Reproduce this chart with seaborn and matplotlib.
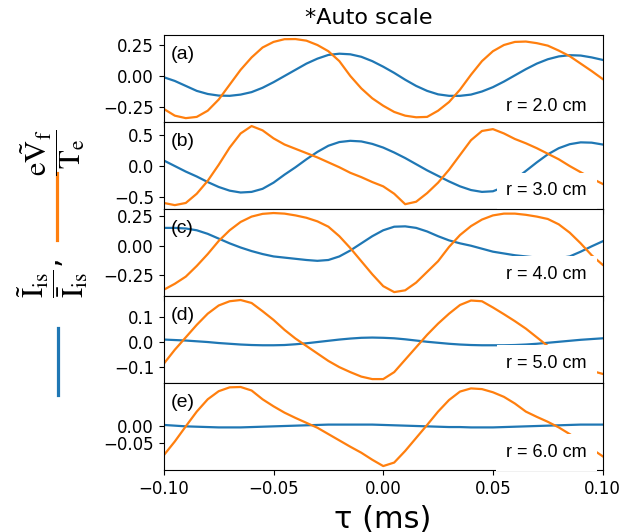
import numpy as np
import matplotlib
matplotlib.use("Agg")
import matplotlib.pyplot as plt
from matplotlib.lines import Line2D
import seaborn as sns

# ---- data ----
tau = np.linspace(-0.1, 0.1, 41)  # ms

blue_a = [-0.01, -0.04, -0.08, -0.12, -0.145, -0.158, -0.16, -0.15, -0.13, -0.095,
          -0.05, 0.0, 0.05, 0.10, 0.14, 0.17, 0.18, 0.175, 0.155, 0.12,
          0.075,
          0.025, -0.03, -0.08, -0.12, -0.148, -0.16, -0.16, -0.15, -0.125, -0.09,
          -0.045, 0.005, 0.055, 0.10, 0.135, 0.158, 0.168, 0.165, 0.15, 0.13]
orange_a = [-0.266, -0.32, -0.34, -0.33, -0.28, -0.19, -0.07, 0.05, 0.15, 0.23,
            0.275, 0.297, 0.298, 0.285, 0.25, 0.20, 0.12, 0.00, -0.10, -0.18,
            -0.24,
            -0.29, -0.32, -0.333, -0.33, -0.28, -0.21, -0.11, 0.01, 0.12, 0.20,
            0.25, 0.275, 0.278, 0.265, 0.245, 0.205, 0.16, 0.10, 0.04, -0.024]

blue_b = [0.09, 0.0, -0.09, -0.17, -0.26, -0.34, -0.40, -0.43, -0.42, -0.37,
          -0.27, -0.14, -0.02, 0.11, 0.23, 0.33, 0.39, 0.41, 0.40, 0.36,
          0.30,
          0.22, 0.13, 0.03, -0.07, -0.16, -0.25, -0.33, -0.39, -0.42, -0.41,
          -0.34, -0.22, -0.08, 0.06, 0.19, 0.29, 0.355, 0.385, 0.38, 0.35]
orange_b = [-0.60, -0.635, -0.60, -0.45, -0.24, 0.02, 0.30, 0.53, 0.65, 0.58,
            0.45, 0.35, 0.28, 0.21, 0.14, 0.06, -0.02, -0.11, -0.18, -0.26,
            -0.33,
            -0.45, -0.62, -0.58, -0.44, -0.27, -0.06, 0.18, 0.42, 0.57, 0.60,
            0.53, 0.44, 0.37, 0.29, 0.20, 0.11, 0.0, -0.10, -0.20, -0.29]

blue_c = [0.15, 0.15, 0.145, 0.13, 0.10, 0.06, 0.02, -0.015, -0.045, -0.07,
          -0.09, -0.10, -0.11, -0.12, -0.127, -0.12, -0.09, -0.04, 0.02, 0.08,
          0.13,
          0.16, 0.163, 0.15, 0.12, 0.08, 0.045, 0.02, 0.00, -0.025, -0.05,
          -0.065, -0.08, -0.09, -0.10, -0.105, -0.105, -0.09, -0.05, -0.005, 0.037]
orange_c = [-0.37, -0.32, -0.26, -0.17, -0.07, 0.04, 0.13, 0.20, 0.245, 0.268,
            0.275, 0.27, 0.255, 0.235, 0.205, 0.16, 0.08, -0.02, -0.13, -0.24,
            -0.34,
            -0.39, -0.375, -0.31, -0.22, -0.13, -0.01, 0.09, 0.165, 0.22, 0.255,
            0.27, 0.27, 0.26, 0.245, 0.225, 0.18, 0.11, 0.02, -0.08, -0.16]

blue_d = [0.011, 0.009, 0.007, 0.004, 0.001, -0.003, -0.006, -0.009, -0.011, -0.012,
          -0.012, -0.011, -0.008, -0.004, 0.001, 0.006, 0.011, 0.015, 0.018, 0.019,
          0.018,
          0.016, 0.012, 0.007, 0.002, -0.002, -0.006, -0.009, -0.011, -0.012, -0.012,
          -0.012, -0.011, -0.009, -0.006, -0.002, 0.002, 0.006, 0.010, 0.013, 0.016]
orange_d = [-0.086, -0.03, 0.02, 0.07, 0.115, 0.148, 0.165, 0.17, 0.158, 0.125,
            0.09, 0.05, 0.015, -0.015, -0.045, -0.075, -0.10, -0.12, -0.138, -0.148,
            -0.148,
            -0.12, -0.07, -0.02, 0.03, 0.075, 0.115, 0.15, 0.168, 0.165, 0.14,
            0.113, 0.085, 0.055, 0.02, -0.015, -0.045, -0.075, -0.10, -0.115, -0.127]

blue_e = [0.002, 0.0, -0.002, -0.003, -0.004, -0.005, -0.005, -0.005, -0.004, -0.003,
          -0.002, -0.001, 0.0, 0.001, 0.002, 0.003, 0.003, 0.003, 0.003, 0.003,
          0.002,
          0.001, 0.0, -0.001, -0.002, -0.003, -0.004, -0.004, -0.005, -0.005, -0.005,
          -0.004, -0.003, -0.002, -0.001, 0.0, 0.001, 0.002, 0.003, 0.003, 0.003]
orange_e = [-0.084, -0.045, -0.002, 0.04, 0.075, 0.098, 0.109, 0.11, 0.10, 0.075,
            0.055, 0.037, 0.022, 0.008, -0.006, -0.024, -0.042, -0.06, -0.077, -0.097,
            -0.115,
            -0.105, -0.072, -0.035, 0.002, 0.04, 0.073, 0.097, 0.106, 0.104, 0.095,
            0.082, 0.063, 0.04, 0.025, 0.011, -0.005, -0.024, -0.045, -0.066, -0.087]

blues = [blue_a, blue_b, blue_c, blue_d, blue_e]
oranges = [orange_a, orange_b, orange_c, orange_d, orange_e]
panel_labels = ["(a)", "(b)", "(c)", "(d)", "(e)"]
radius_labels = ["r = 2.0 cm", "r = 3.0 cm", "r = 4.0 cm", "r = 5.0 cm", "r = 6.0 cm"]
yticks = [[-0.25, 0.0, 0.25], [-0.5, 0.0, 0.5], [-0.25, 0.0, 0.25],
          [-0.1, 0.0, 0.1], [-0.05, 0.0]]
xticks = [-0.10, -0.05, 0.00, 0.05, 0.10]
title = "*Auto scale"
xlabel = "τ (ms)"

# ---- style ----
plt.rcParams["mathtext.fontset"] = "stix"
BLUE = "#1f77b4"
ORANGE = "#ff7f0e"
label_font = "Liberation Sans"
text_y = [0.18, 0.21, 0.25, 0.23, 0.20]

fig, axes = plt.subplots(5, 1, figsize=(6.4, 5.32), dpi=100, sharex=True)
fig.subplots_adjust(left=0.256, right=0.9416, top=0.934, bottom=0.1165, hspace=0)

for i, ax in enumerate(axes):
    sns.lineplot(x=tau, y=blues[i], ax=ax, color=BLUE, linewidth=1.6)
    sns.lineplot(x=tau, y=oranges[i], ax=ax, color=ORANGE, linewidth=1.6)
    for ln in ax.get_lines():
        ln.set_solid_joinstyle("round")
    ax.set_xlim(-0.1, 0.1)
    ax.set_yticks(yticks[i])
    ax.set_ylabel("")
    ax.tick_params(labelsize=12)
    ax.text(0.016, 0.78, panel_labels[i], transform=ax.transAxes, ha="left",
            va="center", fontsize=14, family=label_font)
    ax.text(0.964, text_y[i], radius_labels[i], transform=ax.transAxes, ha="right",
            va="center", fontsize=13, family=label_font, zorder=5,
            bbox=dict(facecolor="white", edgecolor="none", pad=7))

axes[-1].set_xticks(xticks)
axes[-1].tick_params(axis="x", labelsize=12)

fig.text(369 / 640, 1 - 18 / 532, title, ha="center", va="center", fontsize=16)
fig.text(383 / 640, 1 - 519 / 532, xlabel, ha="center", va="center", fontsize=22)

# composite y label
fig.text(53 / 640, 1 - 153 / 532, r"$\dfrac{\mathrm{e}\tilde{\mathrm{V}}_\mathrm{f}}{\mathrm{T_e}}$",
         rotation=90, ha="center", va="center", fontsize=22)
fig.text(53 / 640, 1 - 279 / 532, r"$\dfrac{\tilde{\mathrm{I}}_\mathrm{is}}{\bar{\mathrm{I}}_\mathrm{is}}$,",
         rotation=90, ha="center", va="center", fontsize=22)
fig.add_artist(Line2D([57 / 640, 57 / 640], [1 - 173 / 532, 1 - 240 / 532],
                      color=ORANGE, linewidth=2.3, transform=fig.transFigure))
fig.add_artist(Line2D([58 / 640, 58 / 640], [1 - 328 / 532, 1 - 395 / 532],
                      color=BLUE, linewidth=2.3, transform=fig.transFigure))

fig.savefig("out.png", dpi=100)
